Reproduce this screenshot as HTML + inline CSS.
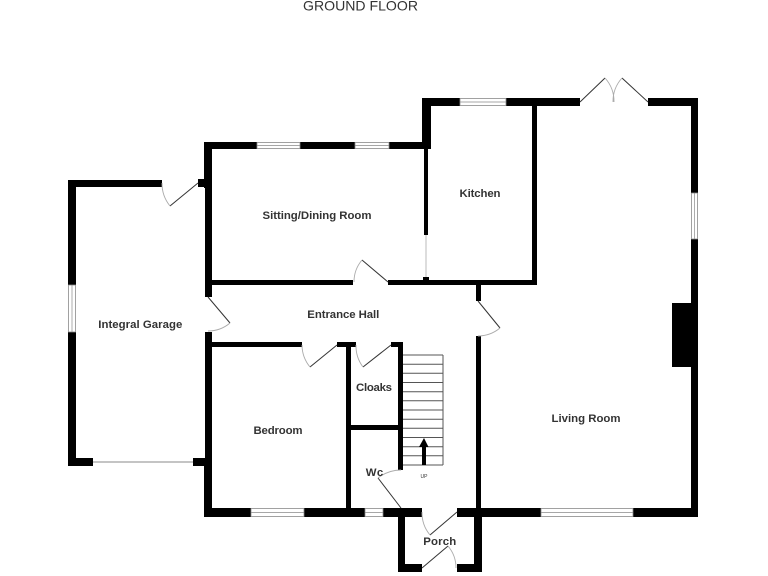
<!DOCTYPE html>
<html><head><meta charset="utf-8"><style>
html,body{margin:0;padding:0;background:#fff;}
svg{display:block;}
text{font-family:"Liberation Sans",Arial,sans-serif;fill:#333;}
.l{font-weight:bold;font-size:11.4px;text-anchor:middle;}
.w{fill:#fff;stroke:#8a8a8a;stroke-width:0.8;}
.wl{stroke:#8a8a8a;stroke-width:0.7;}
.d{stroke:#333;stroke-width:1;fill:none;}
.a{stroke:#aaa;stroke-width:0.9;fill:none;}
.st{stroke:#555;stroke-width:1;}
</style></head><body>
<svg width="768" height="576" viewBox="0 0 768 576" xmlns="http://www.w3.org/2000/svg">
<text x="303" y="10.5" font-size="14" fill="#444" textLength="115" lengthAdjust="spacingAndGlyphs">GROUND FLOOR</text>

<g fill="#000">
<!-- garage -->
<rect x="68" y="180" width="94" height="7"/>
<rect x="68" y="180" width="8" height="105"/>
<rect x="68" y="332" width="8" height="134"/>
<rect x="68" y="458" width="25" height="8"/>
<rect x="193" y="458" width="13" height="8"/>
<rect x="198" y="179" width="14" height="8"/>
<!-- sitting left / hall left / bedroom left -->
<rect x="204" y="142" width="8" height="46"/>
<rect x="205" y="142" width="7" height="155"/>
<rect x="205" y="332" width="7" height="185"/>
<rect x="204" y="458" width="8" height="59"/>
<!-- sitting top -->
<rect x="204" y="142" width="53" height="7"/>
<rect x="300" y="142" width="55" height="7"/>
<rect x="389" y="142" width="41" height="7"/>
<!-- kitchen -->
<rect x="422" y="98" width="9" height="51"/>
<rect x="424" y="149" width="4" height="86"/>
<rect x="423" y="277" width="6" height="4"/>
<rect x="422" y="98" width="38" height="8"/>
<rect x="506" y="98" width="74" height="8"/>
<rect x="532" y="98" width="5" height="187"/>
<!-- sitting bottom / hall top -->
<rect x="205" y="280" width="148" height="5"/>
<rect x="388" y="280" width="149" height="5"/>
<!-- hall right / living left -->
<rect x="476" y="280" width="5" height="21"/>
<rect x="476" y="336" width="5" height="181"/>
<!-- hall bottom -->
<rect x="205" y="342" width="97" height="5"/>
<rect x="337" y="342" width="19" height="5"/>
<rect x="391" y="342" width="12" height="5"/>
<!-- cloaks / wc -->
<rect x="346" y="342" width="5" height="175"/>
<rect x="398" y="342" width="5" height="128"/>
<rect x="346" y="425" width="57" height="5"/>
<!-- bottom wall -->
<rect x="205" y="508" width="46" height="9"/>
<rect x="304" y="508" width="61" height="9"/>
<rect x="383" y="508" width="39" height="9"/>
<rect x="457" y="508" width="84" height="9"/>
<rect x="633" y="508" width="65" height="9"/>
<!-- porch -->
<rect x="398" y="508" width="7" height="64"/>
<rect x="398" y="564" width="24" height="8"/>
<rect x="474" y="508" width="8" height="64"/>
<rect x="457" y="564" width="25" height="8"/>
<!-- living right -->
<rect x="648" y="98" width="50" height="8"/>
<rect x="691" y="98" width="7" height="95"/>
<rect x="691" y="239" width="7" height="278"/>
<rect x="672" y="303" width="19" height="64"/>
</g>

<!-- windows -->
<rect class="w" x="257" y="142.5" width="43" height="6"/><line class="wl" x1="257" y1="145.5" x2="300" y2="145.5"/>
<rect class="w" x="355" y="142.5" width="34" height="6"/><line class="wl" x1="355" y1="145.5" x2="389" y2="145.5"/>
<rect class="w" x="460" y="98.5" width="46" height="7"/><line class="wl" x1="460" y1="102" x2="506" y2="102"/>
<rect class="w" x="691.5" y="193" width="6" height="46"/><line class="wl" x1="694.5" y1="193" x2="694.5" y2="239"/>
<rect class="w" x="68.5" y="285" width="7" height="47"/><line class="wl" x1="72" y1="285" x2="72" y2="332"/>
<rect class="w" x="251" y="508.5" width="53" height="8"/><line class="wl" x1="251" y1="512.5" x2="304" y2="512.5"/>
<rect class="w" x="365" y="508.5" width="18" height="8"/><line class="wl" x1="365" y1="512.5" x2="383" y2="512.5"/>
<rect class="w" x="541" y="508.5" width="92" height="8"/><line class="wl" x1="541" y1="512.5" x2="633" y2="512.5"/>
<!-- garage door & kitchen opening -->
<line x1="93" y1="462" x2="193" y2="462" stroke="#888" stroke-width="1"/>
<line x1="426" y1="235" x2="426" y2="277" stroke="#bbb" stroke-width="1"/>

<!-- doors -->
<line class="d" x1="198" y1="183" x2="170" y2="206"/><path class="a" d="M170 206 A36 36 0 0 1 162 183"/>
<line class="d" x1="388" y1="282" x2="362" y2="260"/><path class="a" d="M362 260 A34 34 0 0 0 354 282"/>
<line class="d" x1="208" y1="297" x2="230" y2="323"/><path class="a" d="M230 323 A34 34 0 0 1 208 331"/>
<line class="d" x1="478" y1="301" x2="500" y2="328"/><path class="a" d="M500 328 A35 35 0 0 1 478 336"/>
<line class="d" x1="337" y1="345" x2="310" y2="367"/><path class="a" d="M310 367 A35 35 0 0 1 302 345"/>
<line class="d" x1="391" y1="345" x2="363" y2="367"/><path class="a" d="M363 367 A35 35 0 0 1 356 345"/>
<line class="d" x1="401" y1="508" x2="378" y2="478"/><path class="a" d="M378 478 A38 38 0 0 1 401 470"/>
<line class="d" x1="457" y1="512" x2="430" y2="535"/><path class="a" d="M430 535 A35 35 0 0 1 422 512"/>
<line class="d" x1="422" y1="568" x2="448" y2="546"/><path class="a" d="M448 546 A34 34 0 0 1 456 568"/>
<line class="d" x1="580" y1="102" x2="605" y2="78"/><path class="a" d="M605 78 A35 35 0 0 1 614 102"/>
<line class="d" x1="648" y1="102" x2="622" y2="78"/><path class="a" d="M622 78 A35 35 0 0 0 613 102"/>

<!-- stairs -->
<g class="st">
<line x1="443" y1="355" x2="443" y2="465"/>
<line x1="403" y1="355" x2="443" y2="355"/>
<line x1="403" y1="364.2" x2="443" y2="364.2"/>
<line x1="403" y1="373.3" x2="443" y2="373.3"/>
<line x1="403" y1="382.5" x2="443" y2="382.5"/>
<line x1="403" y1="391.7" x2="443" y2="391.7"/>
<line x1="403" y1="400.8" x2="443" y2="400.8"/>
<line x1="403" y1="410" x2="443" y2="410"/>
<line x1="403" y1="419.2" x2="443" y2="419.2"/>
<line x1="403" y1="428.3" x2="443" y2="428.3"/>
<line x1="403" y1="437.5" x2="443" y2="437.5"/>
<line x1="403" y1="446.7" x2="443" y2="446.7"/>
<line x1="403" y1="455.8" x2="443" y2="455.8"/>
<line x1="403" y1="465" x2="443" y2="465"/>
</g>
<rect x="422" y="446" width="4" height="19" fill="#000"/>
<polygon points="419,447 428.5,447 424,438" fill="#000"/>
<text x="424" y="478" font-size="5" text-anchor="middle" fill="#666">UP</text>

<!-- labels -->
<text class="l" x="317" y="219" textLength="109" lengthAdjust="spacing">Sitting/Dining Room</text>
<text class="l" x="480" y="197" textLength="41" lengthAdjust="spacing">Kitchen</text>
<text class="l" x="343.3" y="318" textLength="72" lengthAdjust="spacing">Entrance Hall</text>
<text class="l" x="374" y="391" textLength="36" lengthAdjust="spacing">Cloaks</text>
<text class="l" x="278" y="434" textLength="49" lengthAdjust="spacing">Bedroom</text>
<text class="l" x="140.3" y="328" textLength="84" lengthAdjust="spacing">Integral Garage</text>
<text class="l" x="586" y="422" textLength="69" lengthAdjust="spacing">Living Room</text>
<text class="l" x="374.5" y="476" textLength="17.5" lengthAdjust="spacing">Wc</text>
<text class="l" x="439.7" y="545" textLength="33" lengthAdjust="spacing">Porch</text>
</svg>
</body></html>
